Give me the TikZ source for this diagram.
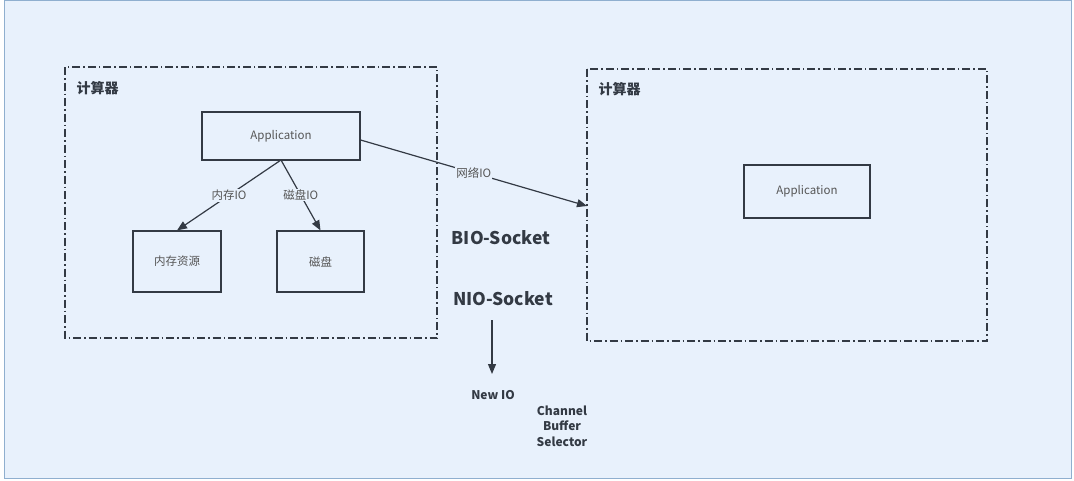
\documentclass[tikz,border=0pt]{standalone}
\usepackage{fontspec}
\setmainfont{Noto Sans CJK SC}
\usetikzlibrary{arrows.meta}
\definecolor{bgc}{HTML}{E8F1FC}
\definecolor{bdc}{HTML}{8FAFCF}
\definecolor{ink}{HTML}{333A44}
\definecolor{txt}{HTML}{555555}
\tikzset{
  machine/.style={draw=ink, line width=1.2pt, dash pattern=on 8pt off 3pt on 1.5pt off 3pt},
  blockbox/.style={draw=ink, line width=1.2pt, fill=bgc, inner sep=0pt, text=txt, font=\fontsize{11.5}{13}\selectfont},
  title/.style={text=ink, font=\fontsize{14}{16}\selectfont\bfseries, anchor=west},
  conn/.style={draw=ink, line width=1.2pt, -{Triangle[length=10pt,width=8pt]}},
  elabel/.style={fill=bgc, inner sep=1pt, text=txt, font=\fontsize{11.5}{13}\selectfont},
  big/.style={text=ink, font=\fontsize{17.5}{20}\selectfont\bfseries},
  small/.style={text=ink, font=\fontsize{12}{15.5}\selectfont\bfseries, align=center}
}
\begin{document}
\begin{tikzpicture}[x=1pt,y=-1pt]
\useasboundingbox (0,0) rectangle (1074,480);
\fill[white] (0,0) rectangle (1074,480);
\draw[bdc, fill=bgc, line width=0.8pt] (4,0.5) rectangle (1071,478);
% left machine
\draw[machine] (65,67) rectangle (437,338);
\node[title] (t1) at (73,88) {计算器};
\node[blockbox, minimum width=158pt, minimum height=48pt] (app1) at (281,136) {Application};
\node[blockbox, minimum width=88pt, minimum height=61pt] (mem) at (177,261.5) {内存资源};
\node[blockbox, minimum width=87pt, minimum height=61pt] (disk) at (320.5,261.5) {磁盘};
\coordinate (ab) at (281,160);
\draw[conn] (ab) -- node[elabel, pos=0.5] {内存IO} (mem.north);
\draw[conn] (ab) -- node[elabel, pos=0.5] {磁盘IO} (disk.north);
% right machine
\draw[machine] (587,69) rectangle (987,341);
\node[title] (t2) at (595,89) {计算器};
\node[blockbox, minimum width=126pt, minimum height=53pt] (app2) at (807,191.5) {Application};
\coordinate (rin) at (587,206);
\draw[conn] (app1.east |- 0,140) -- node[elabel, pos=0.5] {网络IO} (rin);
% texts
\node[big] (bio) at (501,238) {BIO-Socket};
\node[big] (nio) at (503,299) {NIO-Socket};
\node[small] (newio) at (493,395) {New IO};
\draw[conn] (492,320) -- (492,374);
\node[small] (cbs) at (562,426) {Channel\\Buffer\\Selector};
\end{tikzpicture}
\end{document}
